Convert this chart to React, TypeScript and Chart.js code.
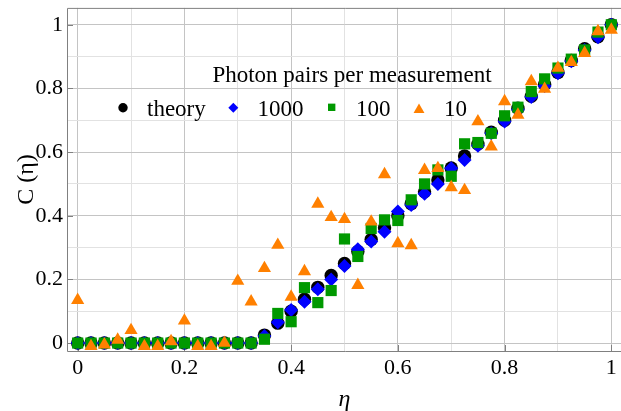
import React, { useEffect, useRef } from 'react';
import { Chart, registerables } from 'chart.js';

Chart.register(...registerables);

// ---- data ----
const eta = [
  0, 0.025, 0.05, 0.075, 0.1, 0.125, 0.15, 0.175, 0.2, 0.225,
  0.25, 0.275, 0.3, 0.325, 0.35, 0.375, 0.4, 0.425, 0.45, 0.475,
  0.5, 0.525, 0.55, 0.575, 0.6, 0.625, 0.65, 0.675, 0.7, 0.725,
  0.75, 0.775, 0.8, 0.825, 0.85, 0.875, 0.9, 0.925, 0.95, 0.975, 1,
];

const theory = [
  0, 0, 0, 0, 0, 0, 0, 0, 0, 0, 0, 0, 0, 0,
  0.025, 0.0625, 0.1, 0.1375, 0.175, 0.2125, 0.25, 0.2875, 0.325, 0.3625,
  0.4, 0.4375, 0.475, 0.5125, 0.55, 0.5875, 0.625, 0.6625, 0.7, 0.7375,
  0.775, 0.8125, 0.85, 0.8875, 0.925, 0.9625, 1.0,
];

const pairs1000 = [
  0, 0, 0, 0, 0, 0, 0, 0, 0, 0, 0, 0, 0, 0,
  0.022, 0.065, 0.104, 0.13, 0.169, 0.2, 0.242, 0.295, 0.319, 0.35,
  0.413, 0.434, 0.469, 0.5, 0.549, 0.575, 0.62, 0.659, 0.696, 0.733,
  0.773, 0.808, 0.848, 0.885, 0.921, 0.961, 1.0,
];

const pairs100 = [
  0, 0, 0, 0, 0, 0, 0, 0, 0, 0, 0, 0, 0, 0,
  0.012, 0.093, 0.067, 0.174, 0.127, 0.165, 0.327, 0.272, 0.36, 0.387,
  0.385, 0.45, 0.5, 0.544, 0.524, 0.626, 0.63, 0.659, 0.714, 0.741,
  0.79, 0.83, 0.864, 0.892, 0.921, 0.977, 1.0,
];

const pairs10 = [
  0.135, -0.01, -0.005, 0.01, 0.04, -0.01, -0.01, 0.005, 0.07, -0.01,
  -0.01, 0, 0.195, 0.13, 0.235, 0.308, 0.145, 0.225, 0.437, 0.395,
  0.389, 0.182, 0.381, 0.53, 0.313, 0.307, 0.543, 0.549, 0.489, 0.48,
  0.696, 0.617, 0.759, 0.717, 0.822, 0.798, 0.864, 0.882, 0.911, 0.979, 0.984,
];

const tickValues = [0, 0.1, 0.2, 0.3, 0.4, 0.5, 0.6, 0.7, 0.8, 0.9, 1];
const majorTicks = [0, 0.2, 0.4, 0.6, 0.8, 1];
const legendTitle = 'Photon pairs per measurement';
const seriesLabels = ['theory', '1000', '100', '10'];
const xTitle = 'η';
const yTitle = 'C (η)';

const SERIF = '"Liberation Serif", "DejaVu Serif", serif';
const COLORS = ['#000000', '#0000ff', '#009900', '#ff8000'];

const isMajor = (v: number) => majorTicks.some((m) => Math.abs(m - v) < 1e-6);
const fmt = (v: number) => String(Number(v.toFixed(1)));

function drawMarker(ctx: CanvasRenderingContext2D, style: string, x: number, y: number, r: number, color: string) {
  ctx.fillStyle = color;
  ctx.beginPath();
  if (style === 'circle') {
    ctx.arc(x, y, r, 0, Math.PI * 2);
  } else if (style === 'rectRot') {
    ctx.moveTo(x - r, y);
    ctx.lineTo(x, y - r);
    ctx.lineTo(x + r, y);
    ctx.lineTo(x, y + r);
    ctx.closePath();
  } else if (style === 'rect') {
    const s = r * Math.SQRT1_2;
    ctx.rect(x - s, y - s, 2 * s, 2 * s);
  } else {
    for (let i = 0; i < 3; i++) {
      const a = (i * 2 * Math.PI) / 3;
      const px = x + Math.sin(a) * r;
      const py = y - Math.cos(a) * r;
      if (i === 0) ctx.moveTo(px, py);
      else ctx.lineTo(px, py);
    }
    ctx.closePath();
  }
  ctx.fill();
}

const framePlugin = {
  id: 'frameAndLegend',
  beforeDatasetsDraw(chart: any) {
    const { ctx, chartArea: a, scales } = chart;
    ctx.save();
    ctx.strokeStyle = '#808080';
    ctx.lineWidth = 1;
    ctx.beginPath();
    const l = a.left + 0.5;
    const t = a.top + 0.5;
    const b = a.bottom + 0.5;
    ctx.moveTo(a.right + 2, t);
    ctx.lineTo(l, t);
    ctx.lineTo(l, b);
    ctx.lineTo(a.right + 2, b);
    majorTicks.forEach((v) => {
      const y = Math.round(scales.y.getPixelForValue(v)) + 0.5;
      ctx.moveTo(a.left, y);
      ctx.lineTo(a.left + 6, y);
      const x = Math.round(scales.x.getPixelForValue(v)) + 0.5;
      ctx.moveTo(x, a.bottom);
      ctx.lineTo(x, a.bottom - 6);
    });
    ctx.stroke();
    ctx.restore();
  },
  afterDraw(chart: any) {
    const { ctx } = chart;
    ctx.save();
    ctx.fillStyle = '#000';
    ctx.font = `23px ${SERIF}`;
    ctx.textAlign = 'center';
    ctx.textBaseline = 'alphabetic';
    ctx.fillText(legendTitle, 352, 82);
    const styles = ['circle', 'rectRot', 'rect', 'triangle'];
    const markerX = [123, 233.3, 331.7, 419];
    const markerY = [107.7, 107.7, 107.3, 109.8];
    const markerR = [4.7, 5, 5.2, 6.3];
    const textX = [147, 257.5, 356, 444];
    ctx.textAlign = 'left';
    seriesLabels.forEach((lab, i) => {
      drawMarker(ctx, styles[i], markerX[i], markerY[i], markerR[i], COLORS[i]);
      ctx.fillStyle = '#000';
      ctx.fillText(lab, textX[i], 115.5);
    });
    ctx.restore();
  },
};

export default function App() {
  const ref = useRef<HTMLCanvasElement | null>(null);

  useEffect(() => {
    if (!ref.current) return;
    const mk = (arr: number[]) => eta.map((x, i) => ({ x, y: arr[i] }));
    const gridColor = (c: any) => (c.tick && isMajor(c.tick.value) ? '#c4c4c4' : '#e2e2e2');

    const chart = new Chart(ref.current, {
      type: 'scatter',
      data: {
        datasets: [
          { label: seriesLabels[0], data: mk(theory), pointStyle: 'circle', pointRadius: 6.7, pointHoverRadius: 6.7, backgroundColor: COLORS[0], borderWidth: 0, order: 3 },
          { label: seriesLabels[1], data: mk(pairs1000), pointStyle: 'rectRot', pointRadius: 7, pointHoverRadius: 7, backgroundColor: COLORS[1], borderWidth: 0, order: 2 },
          { label: seriesLabels[2], data: mk(pairs100), pointStyle: 'rect', pointRadius: 7.9, pointHoverRadius: 7.9, backgroundColor: COLORS[2], borderWidth: 0, order: 1 },
          { label: seriesLabels[3], data: mk(pairs10), pointStyle: 'triangle', pointRadius: 7.6, pointHoverRadius: 7.6, backgroundColor: COLORS[3], borderWidth: 0, order: 0 },
        ] as any,
      },
      options: {
        animation: false,
        responsive: false,
        events: [],
        layout: { padding: { top: 7, right: 8, left: 0, bottom: 0 } },
        plugins: { legend: { display: false }, tooltip: { enabled: false } },
        scales: {
          x: {
            type: 'linear',
            min: -0.02,
            max: 1.02,
            afterBuildTicks: (s: any) => {
              s.ticks = tickValues.map((v) => ({ value: v }));
            },
            afterFit: (s: any) => {
              s.height = 60;
              s.paddingLeft = 0;
              s.paddingRight = 0;
            },
            grid: { color: gridColor, lineWidth: 1, drawTicks: false },
            border: { display: false },
            ticks: {
              autoSkip: false,
              maxRotation: 0,
              padding: 4,
              color: '#000',
              font: { family: SERIF, size: 22 },
              callback: (v: any) => (isMajor(Number(v)) ? fmt(Number(v)) : ''),
            },
            title: {
              display: true,
              text: xTitle,
              color: '#000',
              font: { family: SERIF, size: 24, style: 'italic' },
              padding: { top: 0, bottom: -3 },
            },
          },
          y: {
            type: 'linear',
            min: -0.025,
            max: 1.053,
            afterBuildTicks: (s: any) => {
              s.ticks = tickValues.map((v) => ({ value: v }));
            },
            afterFit: (s: any) => {
              s.width = 67;
              s.paddingTop = 0;
              s.paddingBottom = 0;
            },
            grid: { color: gridColor, lineWidth: 1, drawTicks: false },
            border: { display: false },
            ticks: {
              autoSkip: false,
              padding: 4,
              color: '#000',
              font: { family: SERIF, size: 22 },
              callback: (v: any) => (isMajor(Number(v)) ? fmt(Number(v)) : ''),
            },
            title: {
              display: true,
              text: yTitle,
              color: '#000',
              font: { family: SERIF, size: 24 },
              padding: { top: 12, bottom: 0 },
            },
          },
        },
      } as any,
      plugins: [framePlugin],
    });
    return () => chart.destroy();
  }, []);

  return (
    <div style={{ position: 'fixed', left: 0, top: 0, width: 630, height: 411, overflow: 'hidden', background: '#fff' }}>
      <canvas ref={ref} width={630} height={411} style={{ width: 630, height: 411, display: 'block' }} />
    </div>
  );
}
